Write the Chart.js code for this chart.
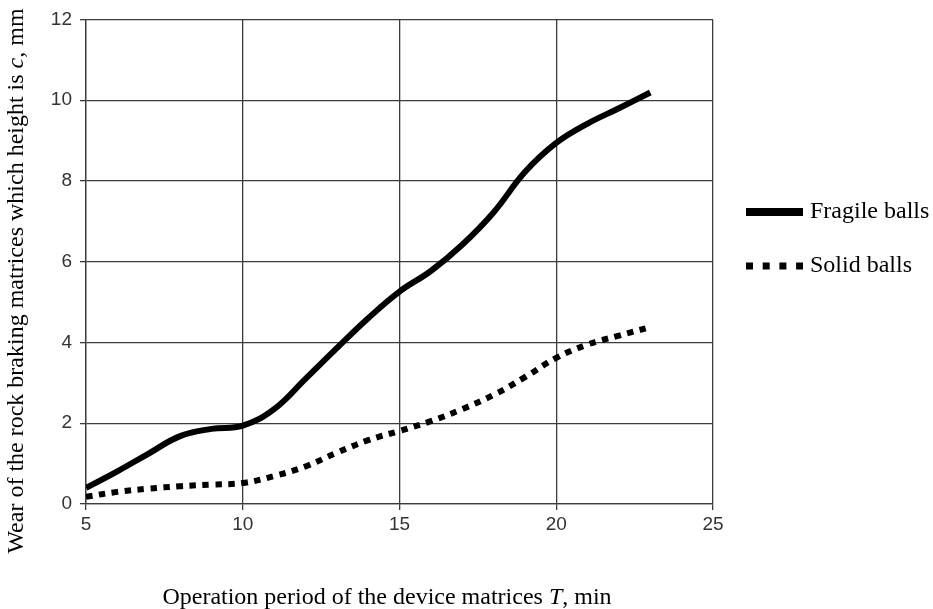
<!DOCTYPE html>
<html lang="en">
  <head>
    <meta charset="utf-8">
    <title>Wear of matrices</title>
    <style>
      body { margin: 0; background: #fff; }
    </style>
  </head>
  <body>

<canvas id="graph" width="933" height="609"></canvas>

<script src="https://cdn.jsdelivr.net/npm/chart.js@4"></script>
<script>
	// values
	var periods = [5, 6, 7, 8, 9, 10, 11, 12, 13, 14, 15, 16, 17, 18, 19, 20, 21, 22, 23];
	var fragile = [0.4, 0.81, 1.25, 1.68, 1.86, 1.94, 2.35, 3.1, 3.86, 4.6, 5.26, 5.77, 6.42, 7.22, 8.22, 8.94, 9.42, 9.8, 10.19];
	var solid = [0.18, 0.3, 0.38, 0.44, 0.48, 0.52, 0.69, 0.93, 1.27, 1.58, 1.81, 2.05, 2.35, 2.7, 3.14, 3.62, 3.95, 4.17, 4.38];
	var seriesNames = ['Fragile balls', 'Solid balls'];
	var xTicks = [5, 10, 15, 20, 25];
	var yTicks = [0, 2, 4, 6, 8, 10, 12];

	var gridColor = '#3c3c3c';
	var serif = '"Liberation Serif", "Times New Roman", serif';

	function points(ys) {
		return periods.map(function (p, i) { return {x: p, y: ys[i]}; });
	}

	// draw text made of plain and italic pieces, centred on (cx, cy)
	function drawMixed(ctx, parts, cx, cy, angle) {
		ctx.save();
		ctx.translate(cx, cy);
		ctx.rotate(angle);
		ctx.textBaseline = 'middle';
		ctx.textAlign = 'left';
		var total = 0;
		parts.forEach(function (p) {
			ctx.font = (p[1] ? 'italic ' : '') + '24px ' + serif;
			total += ctx.measureText(p[0]).width;
		});
		var x = -total / 2;
		parts.forEach(function (p) {
			ctx.font = (p[1] ? 'italic ' : '') + '24px ' + serif;
			ctx.fillStyle = '#000';
			ctx.fillText(p[0], x, 0);
			x += ctx.measureText(p[0]).width;
		});
		ctx.restore();
	}

	var extras = {
		id: 'extras',
		afterDraw: function (chart) {
			var ctx = chart.ctx;
			// axis titles
			drawMixed(ctx, [['Wear of the rock braking matrices which height is ', false], ['c', true], [', mm', false]], 17, 281, -Math.PI / 2);
			drawMixed(ctx, [['Operation period of the device matrices ', false], ['T', true], [', min', false]], 387, 598, 0);

			// legend
			var rows = [212, 266];
			chart.data.datasets.forEach(function (ds, i) {
				var y = rows[i];
				ctx.save();
				ctx.strokeStyle = ds.borderColor;
				ctx.lineCap = 'butt';
				if (ds.borderDash) {
					ctx.lineWidth = 7;
					ctx.setLineDash([7, 9.7]);
				} else {
					ctx.lineWidth = 8;
				}
				ctx.beginPath();
				ctx.moveTo(746, y);
				ctx.lineTo(803, y);
				ctx.stroke();
				ctx.restore();
				ctx.save();
				ctx.font = '24px ' + serif;
				ctx.fillStyle = '#000';
				ctx.textBaseline = 'middle';
				ctx.fillText(ds.label, 810, y);
				ctx.restore();
			});
		}
	};

	var ctx = document.getElementById('graph').getContext('2d');
	var chart = new Chart(ctx, {
		type: 'line',
		data: {
			datasets: [{
				label: seriesNames[0],
				data: points(fragile),
				borderColor: '#000',
				borderWidth: 6,
				pointRadius: 0,
				tension: 0.4,
				borderCapStyle: 'butt'
			}, {
				label: seriesNames[1],
				data: points(solid),
				borderColor: '#000',
				borderWidth: 6,
				borderDash: [6.5, 6.5],
				pointRadius: 0,
				tension: 0.4,
				borderCapStyle: 'butt'
			}]
		},
		options: {
			responsive: false,
			animation: false,
			layout: { padding: { top: 15, right: 220, left: 0, bottom: 0 } },
			plugins: {
				legend: { display: false },
				tooltip: { enabled: false }
			},
			scales: {
				x: {
					type: 'linear',
					min: xTicks[0],
					max: xTicks[xTicks.length - 1],
					afterBuildTicks: function (scale) {
						scale.ticks = xTicks.map(function (v) { return {value: v}; });
					},
					afterFit: function (scale) { scale.height = 105; },
					grid: { color: gridColor, lineWidth: 1.3, tickLength: 6 },
					border: { color: gridColor, width: 1.3 },
					ticks: { color: '#333', padding: 3, font: { family: '"Liberation Sans", Arial, sans-serif', size: 19 } }
				},
				y: {
					min: yTicks[0],
					max: yTicks[yTicks.length - 1],
					afterBuildTicks: function (scale) {
						scale.ticks = yTicks.map(function (v) { return {value: v}; });
					},
					afterFit: function (scale) { scale.width = 86; },
					grid: { color: gridColor, lineWidth: 1.3, tickLength: 6 },
					border: { color: gridColor, width: 1.3 },
					ticks: { color: '#333', padding: 8, font: { family: '"Liberation Sans", Arial, sans-serif', size: 19 } }
				}
			}
		},
		plugins: [extras]
	});
</script>
  </body>
</html>
